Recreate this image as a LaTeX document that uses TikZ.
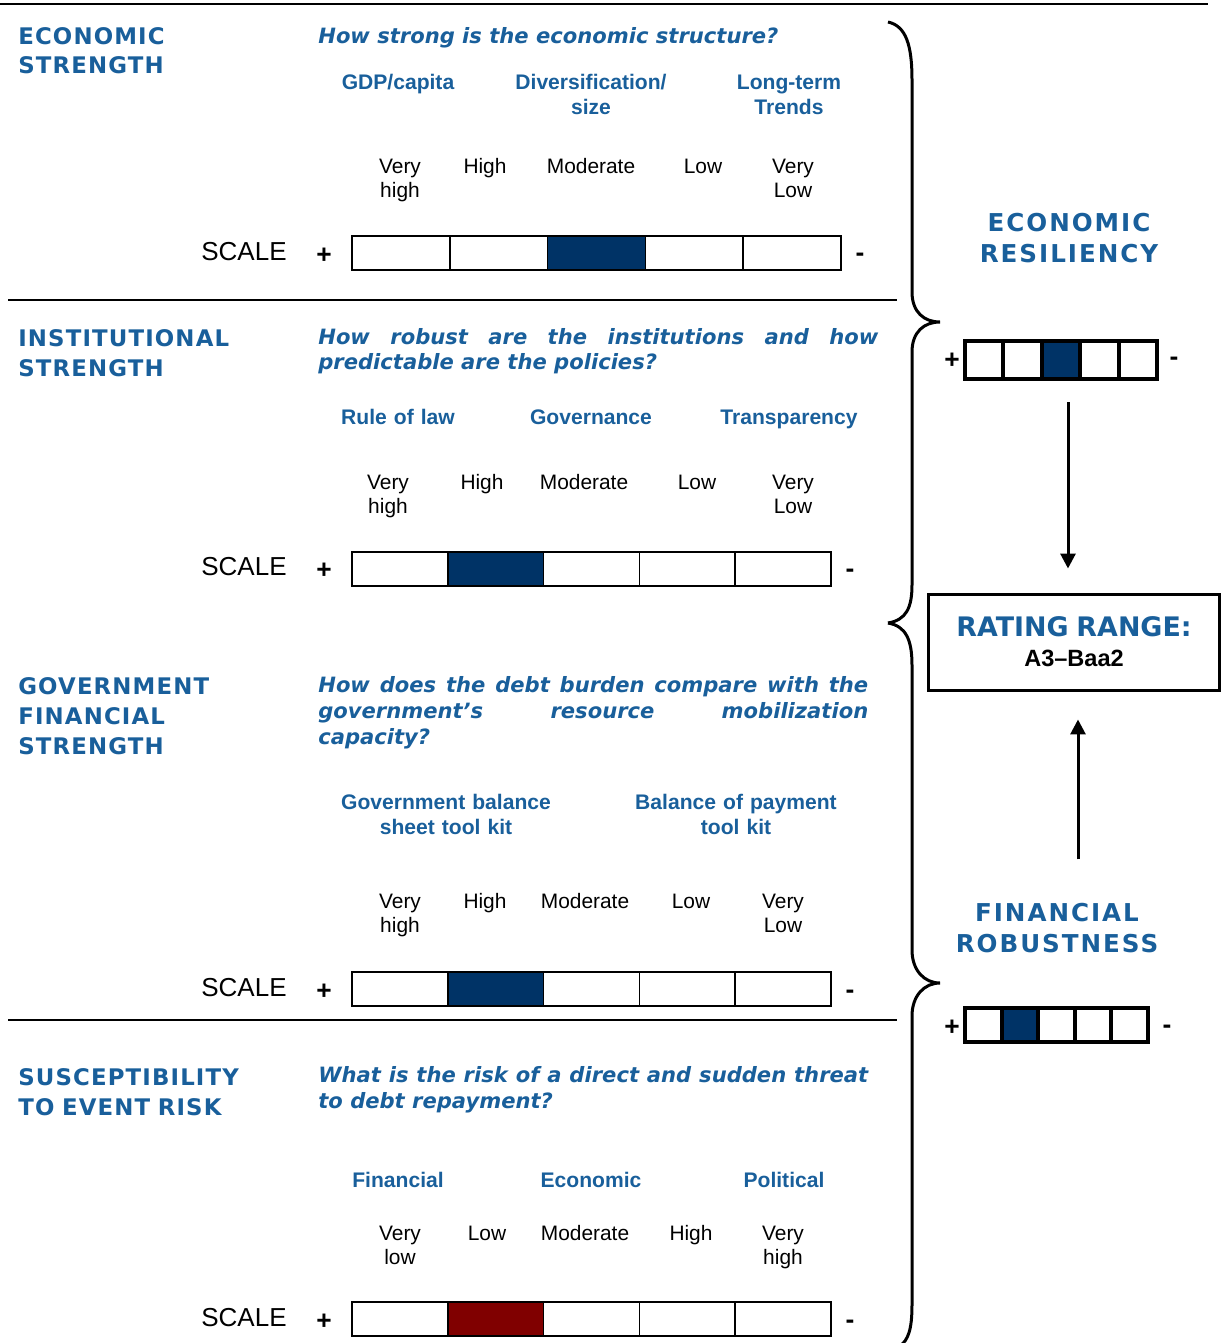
\documentclass[tikz,border=0pt]{standalone}
\usepackage{fontspec}
\setmainfont{Liberation Sans}
\newfontfamily\verdfont{DejaVu Sans}
\newfontfamily\verdspaced[LetterSpace=5]{DejaVu Sans}
\newfontfamily\verdwide[LetterSpace=8]{DejaVu Sans}
\usetikzlibrary{arrows.meta}
\definecolor{mblue}{RGB}{25,95,155}
\definecolor{fblue}{RGB}{0,51,102}
\definecolor{fred}{RGB}{128,0,0}
\tikzset{
  title/.style={anchor=base west, text width=6cm, align=left, inner sep=0pt, text=mblue, font=\verdspaced\bfseries\fontsize{13}{17}\selectfont},
  bigtitle/.style={anchor=base, text width=6cm, align=center, inner sep=0pt, text=mblue, font=\verdwide\bfseries\fontsize{14}{18.1}\selectfont},
  quest/.style={anchor=base west, inner sep=0pt, text=mblue, font=\verdfont\bfseries\itshape\fontsize{12}{14.7}\selectfont},
  sub/.style={anchor=base, text width=5cm, align=center, inner sep=0pt, text=mblue, font=\bfseries\fontsize{12}{14.2}\selectfont},
  lvl/.style={anchor=base, text width=2.4cm, align=center, inner sep=0pt, font=\fontsize{11.9}{13.6}\selectfont},
  scl/.style={anchor=base west, inner sep=0pt, font=\fontsize{14.8}{16}\selectfont},
  sign/.style={inner sep=0pt, font=\bfseries\fontsize{15}{16}\selectfont},
  cell/.style={draw, line width=0.3mm, minimum height=6.8mm, inner sep=0pt, outer sep=0pt},
  mini/.style={draw, line width=0.8mm, inner sep=0pt, outer sep=0pt},
  brace/.style={line width=0.6mm},
  arr/.style={line width=0.6mm, -{Triangle[length=3mm,width=3mm]}}
}
\begin{document}
\begin{tikzpicture}[x=0.02cm,y=-0.02cm]
\useasboundingbox (0,0) rectangle (1222,1343);
% Rules
\draw[line width=0.5mm] (0,4) -- (1208,4);
\draw[line width=0.3mm] (8,300) -- (897,300);
\draw[line width=0.3mm] (8,1020) -- (897,1020);

% Economic strength
\node[title] (eco) at (18,44) {ECONOMIC\\STRENGTH};
\node[quest] (ecoq) at (318,43) {How strong is the economic structure?};
\node[sub] (ecos1) at (398,89.6) {GDP/capita};
\node[sub] (ecos2) at (591,89.6) {Diversification/\\size};
\node[sub] (ecos3) at (789,89.6) {Long-term\\Trends};
\foreach \x/\t [count=\i] in {400/{Very\\high},485/High,591/Moderate,703/Low,793/{Very\\Low}}
  \node[lvl] (ecol\i) at (\x,173.5) {\t};
\node[scl] (ecosc) at (201,260.5) {SCALE};
\foreach \c [count=\i] in {white,white,fblue,white,white}
  \node[cell, minimum width=19.56mm, fill=\c] (ecoc\i) at ({352+97.8*(\i-0.5)},253) {};
\node[sign] (ecop) at (324,256) {+};
\node[sign] (ecom) at (860,257) {-};

% Institutional strength
\node[title] (ins) at (18,346.5) {INSTITUTIONAL\\STRENGTH};
\node[quest, text width=11.2cm, align=justify] (insq) at (318,344) {How robust are the institutions and how\linebreak predictable are the policies?};
\node[sub] (inss1) at (398,424.6) {Rule of law};
\node[sub] (inss2) at (591,424.6) {Governance};
\node[sub] (inss3) at (789,424.6) {Transparency};
\foreach \x/\t [count=\i] in {388/{Very\\high},482/High,584/Moderate,697/Low,793/{Very\\Low}}
  \node[lvl] (insl\i) at (\x,489.5) {\t};
\node[scl] (inssc) at (201,575.5) {SCALE};
\foreach \c [count=\i] in {white,fblue,white,white,white}
  \node[cell, minimum width=19.16mm, fill=\c] (insc\i) at ({352+95.8*(\i-0.5)},569) {};
\node[sign] (insp) at (324,571) {+};
\node[sign] (insm) at (850,573) {-};

% Government financial strength
\node[title] (gov) at (18,694.5) {GOVERNMENT\\FINANCIAL\\STRENGTH};
\node[quest, text width=11cm, align=justify] (govq) at (318,692.7) {How does the debt burden compare with the\linebreak government’s resource mobilization\linebreak capacity?};
\node[sub] (govs1) at (446,809.6) {Government balance\\sheet tool kit};
\node[sub] (govs2) at (736,809.6) {Balance of payment\\tool kit};
\foreach \x/\t [count=\i] in {400/{Very\\high},485/High,585/Moderate,691/Low,783/{Very\\Low}}
  \node[lvl] (govl\i) at (\x,908.5) {\t};
\node[scl] (govsc) at (201,996.5) {SCALE};
\foreach \c [count=\i] in {white,fblue,white,white,white}
  \node[cell, minimum width=19.16mm, fill=\c] (govc\i) at ({352+95.8*(\i-0.5)},989) {};
\node[sign] (govp) at (324,992) {+};
\node[sign] (govm) at (850,994) {-};

% Susceptibility to event risk
\node[title] (sus) at (18,1085.5) {SUSCEPTIBILITY\\TO EVENT RISK};
\node[quest, text width=11cm, align=justify] (susq) at (318,1082.7) {What is the risk of a direct and sudden threat\linebreak to debt repayment?};
\node[sub] (suss1) at (398,1187.6) {Financial};
\node[sub] (suss2) at (591,1187.6) {Economic};
\node[sub] (suss3) at (784,1187.6) {Political};
\foreach \x/\t [count=\i] in {400/{Very\\low},487/Low,585/Moderate,691/High,783/{Very\\high}}
  \node[lvl] (susl\i) at (\x,1240.5) {\t};
\node[scl] (sussc) at (201,1326.5) {SCALE};
\foreach \c [count=\i] in {white,fred,white,white,white}
  \node[cell, minimum width=19.16mm, fill=\c] (susc\i) at ({352+95.8*(\i-0.5)},1319) {};
\node[sign] (susp) at (324,1322) {+};
\node[sign] (susm) at (850,1324) {-};

% Braces
\draw[brace] (888,22) .. controls (906,26) and (912,45) .. (912,80) -- (912,292)
  .. controls (912,312) and (924,322) .. (940,322) .. controls (924,322) and (912,332) .. (912,352)
  -- (912,585) .. controls (912,608) and (906,620) .. (888,623);
\draw[brace] (888,623) .. controls (906,626) and (912,640) .. (912,665) -- (912,950)
  .. controls (912,970) and (924,983) .. (940,983) .. controls (924,983) and (912,996) .. (912,1016)
  -- (912,1305) .. controls (912,1330) and (908,1340) .. (900,1346);

% Right column
\node[bigtitle] (res) at (1069,231) {ECONOMIC\\RESILIENCY};
\foreach \c [count=\i] in {white,white,fblue,white,white}
  \node[mini, minimum width=7.68mm, minimum height=7.6mm, fill=\c] (resc\i) at ({965+38.4*(\i-0.5)},360) {};
\node[sign] (resp) at (952,361) {+};
\node[sign] (resm) at (1174,361) {-};
\node[draw, line width=0.6mm, minimum width=58.4mm, minimum height=19.2mm, text width=5.6cm, align=center, inner sep=0pt,
  font=\bfseries\fontsize{13.4}{17}\selectfont] (rating) at (1074,642)
  {{\color{mblue}\verdfont\fontsize{15.3}{17}\selectfont RATING RANGE:}\\A3--Baa2};
\node[bigtitle] (fin) at (1057,921) {FINANCIAL\\ROBUSTNESS};
\foreach \c [count=\i] in {white,fblue,white,white,white}
  \node[mini, minimum width=7.32mm, minimum height=6.8mm, fill=\c] (robc\i) at ({965+36.6*(\i-0.5)},1025) {};
\node[sign] (robp) at (952,1028) {+};
\node[sign] (robm) at (1167,1029) {-};
\draw[arr, shorten <=4.6mm, shorten >=4.8mm] ([xshift=1.4mm]resc3.south) -- ([xshift=1.4mm]resc3.south |- rating.north);
\draw[arr, shorten <=8.6mm, shorten >=5.6mm] (fin.north -| 1078,0) -- (rating.south -| 1078,0);
\end{tikzpicture}
\end{document}
